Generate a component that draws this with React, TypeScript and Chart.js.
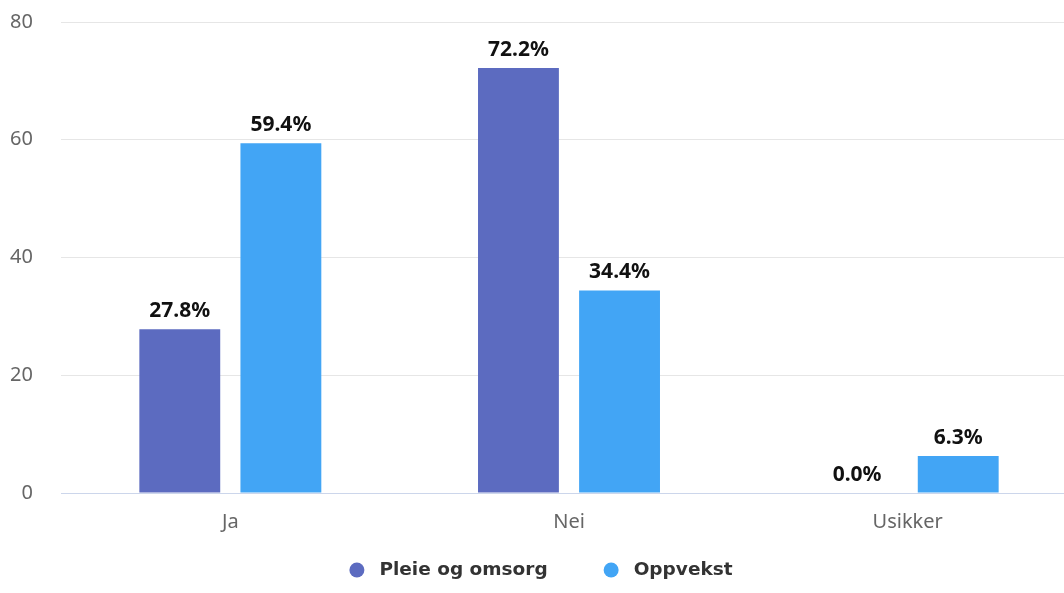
import React, { useEffect, useRef } from "react";
import { Chart, registerables } from "chart.js";

Chart.register(...registerables);

const categories = ["Ja", "Nei", "Usikker"];
const seriesNames = ["Pleie og omsorg", "Oppvekst"];
const pleieValues = [27.8, 72.2, 0.0];
const oppvekstValues = [59.4, 34.4, 6.3];
const seriesColors = ["#5c6bc0", "#42a5f5"];
const yMin = 0;
const yMax = 80;
const yStep = 20;

const CANVAS_W = 1077;
const CANVAS_H = 593;

const dataLabelPlugin = {
  id: "dataLabels",
  afterDatasetsDraw(chart: any) {
    const ctx = chart.ctx;
    ctx.save();
    ctx.font = "bold 21px 'Noto Sans', sans-serif";
    ctx.fillStyle = "#111";
    ctx.textAlign = "center";
    ctx.textBaseline = "alphabetic";
    chart.data.datasets.forEach((ds: any, di: number) => {
      const meta = chart.getDatasetMeta(di);
      meta.data.forEach((bar: any, i: number) => {
        const v = ds.data[i];
        ctx.fillText(v.toFixed(1) + "%", bar.x, bar.y - 12);
      });
    });
    ctx.restore();
  },
};

const legendPlugin = {
  id: "customLegend",
  afterDraw(chart: any) {
    const ctx = chart.ctx;
    ctx.save();
    ctx.font = "bold 18.5px 'DejaVu Sans', sans-serif";
    const d = 15;
    const gap = 15;
    const itemGap = 56;
    const widths = seriesNames.map((n) => ctx.measureText(n).width);
    let total = 0;
    widths.forEach((w, i) => {
      total += d + gap + w + (i < widths.length - 1 ? itemGap : 0);
    });
    let x = 541 - total / 2;
    const y = 570;
    seriesNames.forEach((n, i) => {
      ctx.fillStyle = seriesColors[i];
      ctx.beginPath();
      ctx.arc(x + d / 2, y, d / 2, 0, Math.PI * 2);
      ctx.fill();
      ctx.fillStyle = "#333";
      ctx.textAlign = "left";
      ctx.textBaseline = "middle";
      ctx.fillText(n, x + d + gap, y);
      x += d + gap + widths[i] + itemGap;
    });
    ctx.restore();
  },
};

export default function App() {
  const ref = useRef<HTMLCanvasElement | null>(null);

  useEffect(() => {
    if (!ref.current) return;
    const chart = new Chart(ref.current, {
      type: "bar",
      data: {
        labels: categories,
        datasets: [
          {
            label: seriesNames[0],
            data: pleieValues,
            backgroundColor: seriesColors[0],
            borderWidth: 0,
            categoryPercentage: 0.597,
            barPercentage: 0.8,
          },
          {
            label: seriesNames[1],
            data: oppvekstValues,
            backgroundColor: seriesColors[1],
            borderWidth: 0,
            categoryPercentage: 0.597,
            barPercentage: 0.8,
          },
        ],
      },
      options: {
        responsive: false,
        animation: false,
        devicePixelRatio: 1,
        layout: { padding: { top: 22, bottom: 60, left: 0, right: 0 } },
        plugins: {
          legend: { display: false },
          tooltip: { enabled: false },
        },
        scales: {
          x: {
            grid: { display: false, drawTicks: false },
            border: { display: false },
            ticks: {
              color: "#666",
              padding: 17,
              font: { family: "'Noto Sans', sans-serif", size: 20 },
            },
            afterFit: (scale: any) => {
              scale.height = 40;
              scale.paddingLeft = 0;
              scale.paddingRight = 0;
            },
          },
          y: {
            min: yMin,
            max: yMax,
            ticks: {
              stepSize: yStep,
              color: "#666",
              padding: 28,
              font: { family: "'Noto Sans', sans-serif", size: 20 },
            },
            grid: {
              drawTicks: false,
              color: (c: any) => (c.tick && c.tick.value === 0 ? "#ccd6eb" : "#e6e6e6"),
            },
            border: { display: false },
            afterFit: (scale: any) => {
              scale.width = 61;
              scale.paddingTop = 0;
              scale.paddingBottom = 0;
            },
          },
        },
      },
      plugins: [dataLabelPlugin, legendPlugin],
    });
    return () => chart.destroy();
  }, []);

  return (
    <div
      style={{
        position: "fixed",
        left: 0,
        top: 0,
        width: 1064,
        height: 593,
        overflow: "hidden",
        background: "#fff",
      }}
    >
      <canvas ref={ref} width={CANVAS_W} height={CANVAS_H} style={{ display: "block" }} />
    </div>
  );
}
